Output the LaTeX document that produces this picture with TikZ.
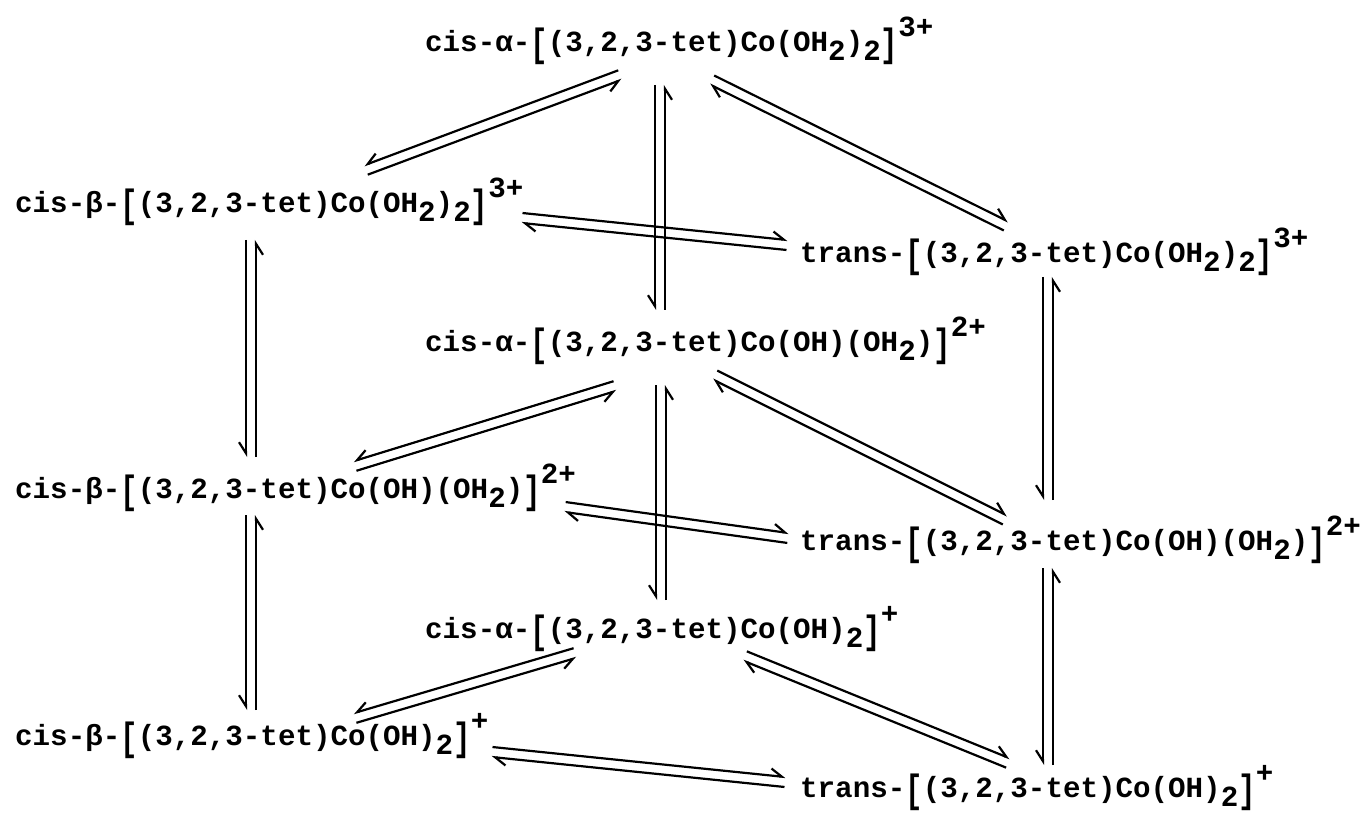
\documentclass[tikz,border=0pt]{standalone}
\usepackage{fontspec}
\setmonofont{Liberation Mono}
\usepackage{graphicx}
\usetikzlibrary{calc,arrows.meta}
\newcommand{\lo}[1]{\raisebox{-9pt}{#1}}
\newcommand{\hi}[1]{\raisebox{15pt}{#1}}
\newcommand{\lb}{\raisebox{-5pt}{\scalebox{1}[1.35]{[}}}
\newcommand{\rb}{\raisebox{-5pt}{\scalebox{1}[1.35]{]}}}
\newcommand{\eqL}[2]{%
  \draw[harpL] ($(#1)!5pt!90:(#2)$) -- ($(#2)!5pt!-90:(#1)$);
  \draw[harpL] ($(#2)!5pt!90:(#1)$) -- ($(#1)!5pt!-90:(#2)$);}
\newcommand{\eqR}[2]{%
  \draw[harpR] ($(#1)!5pt!-90:(#2)$) -- ($(#2)!5pt!90:(#1)$);
  \draw[harpR] ($(#2)!5pt!-90:(#1)$) -- ($(#1)!5pt!90:(#2)$);}
\begin{document}
\begin{tikzpicture}[x=1pt,y=-1pt,
  chem/.style={font=\ttfamily\bfseries\fontsize{29.2}{31}\selectfont, inner sep=0pt, anchor=base west},
  harpL/.style={line width=2.2pt, -{Straight Barb[left,length=11pt,width=14pt]}},
  harpR/.style={line width=2.2pt, -{Straight Barb[right,length=11pt,width=14pt]}}]
\fill[white] (0,0) rectangle (1361,813);
\useasboundingbox (0,0) rectangle (1361,813);

% species
\node[chem] (A3) at (425,52)  {cis-α-\lb(3,2,3-tet)Co(OH\lo{2})\lo{2}\rb\hi{3+}};
\node[chem] (B3) at (15,213)  {cis-β-\lb(3,2,3-tet)Co(OH\lo{2})\lo{2}\rb\hi{3+}};
\node[chem] (T3) at (800,263) {trans-\lb(3,2,3-tet)Co(OH\lo{2})\lo{2}\rb\hi{3+}};
\node[chem] (A2) at (425,352) {cis-α-\lb(3,2,3-tet)Co(OH)(OH\lo{2})\rb\hi{2+}};
\node[chem] (B2) at (15,498)  {cis-β-\lb(3,2,3-tet)Co(OH)(OH\lo{2})\rb\hi{2+}};
\node[chem] (T2) at (800,550) {trans-\lb(3,2,3-tet)Co(OH)(OH\lo{2})\rb\hi{2+}};
\node[chem] (A1) at (425,638) {cis-α-\lb(3,2,3-tet)Co(OH)\lo{2}\rb\hi{+}};
\node[chem] (B1) at (15,745)  {cis-β-\lb(3,2,3-tet)Co(OH)\lo{2}\rb\hi{+}};
\node[chem] (T1) at (800,797) {trans-\lb(3,2,3-tet)Co(OH)\lo{2}\rb\hi{+}};

% connector end points
\coordinate (a3l) at (620,75);   \coordinate (b3r) at (366,170);
\coordinate (a3r) at (712,80);   \coordinate (t3t) at (1006,226);
\coordinate (a3b) at (660,85);   \coordinate (a2t) at (660,310);
\coordinate (b3e) at (522,218);  \coordinate (t3w) at (787,245);
\coordinate (b3b) at (251,240);  \coordinate (b2t) at (251,457);
\coordinate (t3b) at (1048,277); \coordinate (t2t) at (1048,500);
\coordinate (a2l) at (615,386);  \coordinate (b2r) at (355,466);
\coordinate (a2r) at (715,375);  \coordinate (t2n) at (1005,520);
\coordinate (a2b) at (661,385);  \coordinate (a1t) at (661,600);
\coordinate (b2e) at (565,507);  \coordinate (t2w) at (788,538);
\coordinate (b2b) at (251,515);  \coordinate (b1t) at (251,710);
\coordinate (t2b) at (1048,568); \coordinate (t1t) at (1048,765);
\coordinate (a1l) at (575,653);  \coordinate (b1r) at (355,718);
\coordinate (a1r) at (745,656);  \coordinate (t1n) at (1008,763);
\coordinate (b1e) at (492,752);  \coordinate (t1w) at (785,782);

% equilibria
\eqR{a3l}{b3r}
\eqL{a3r}{t3t}
\eqR{a3b}{a2t}
\eqL{b3e}{t3w}
\eqR{b3b}{b2t}
\eqR{t3b}{t2t}
\eqR{a2l}{b2r}
\eqL{a2r}{t2n}
\eqR{a2b}{a1t}
\eqL{b2e}{t2w}
\eqR{b2b}{b1t}
\eqR{t2b}{t1t}
\eqR{a1l}{b1r}
\eqL{a1r}{t1n}
\eqL{b1e}{t1w}
\end{tikzpicture}
\end{document}
